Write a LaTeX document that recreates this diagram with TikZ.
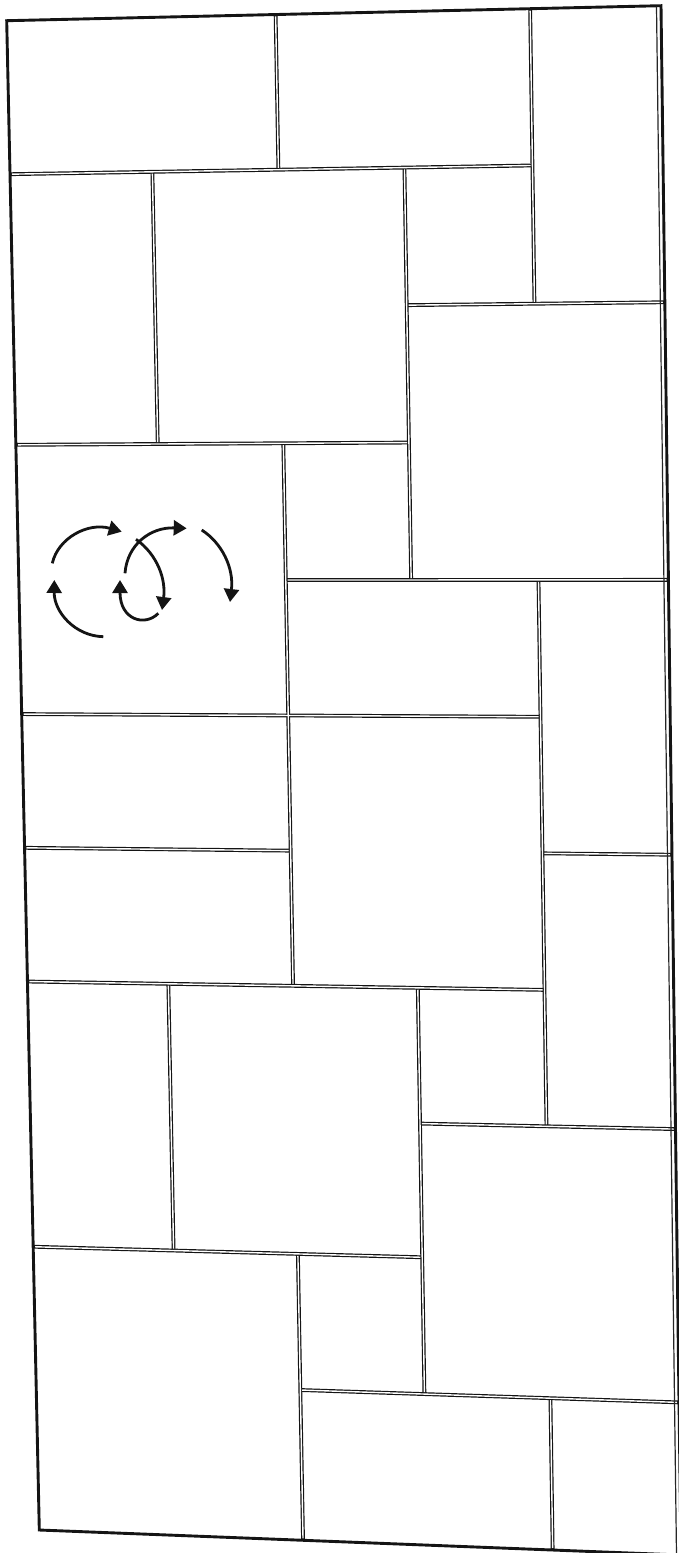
\documentclass[tikz,border=0pt]{standalone}
\usetikzlibrary{calc,arrows.meta}
\begin{document}
\begin{tikzpicture}[x=0.5pt,y=-0.5pt,
  darkline/.style={line width=1.9pt,draw=black!92},
  coreline/.style={line width=0.7pt,draw=white,shorten <=0.95pt,shorten >=0.95pt},
  frameline/.style={line width=1.45pt,draw=black!92,line join=miter},
  rot/.style={line width=1.4pt,draw=black!92,-{Triangle[length=6.5pt,width=7.5pt]}}]
\useasboundingbox (0,0) rectangle (679,1553);
\clip (0,0) rectangle (679,1553);
\coordinate (TL) at (6.7,20.7);
\coordinate (TR) at (661,5.7);
\coordinate (BL) at (39.3,1530);
\coordinate (BR) at (681,1555);
\foreach \i/\sv in {0/0,1/0.218,2/0.411,3/0.604,4/0.800,5/1}{
  \coordinate (top\i) at ($(TL)!\sv!(TR)$);
  \coordinate (bot\i) at ($(BL)!\sv!(BR)$);
  \foreach \j/\tv in {0/0,1/0.1017,2/0.1914,3/0.281,4/0.3706,5/0.4594,6/0.548,7/0.6366,8/0.7251,9/0.8123,10/0.9015,11/1}{
    \coordinate (p\i-\j) at ($(top\i)!\tv!(bot\i)$);
  }
}
\def\seglist{p2-0/p2-1,p4-0/p4-2,p1-1/p1-3,p3-1/p3-4,p2-3/p2-7,p4-4/p4-8,p1-7/p1-9,p3-7/p3-10,p2-9/p2-11,p4-10/p4-11,
p0-1/p4-1,p3-2/p5-2,p0-3/p3-3,p2-4/p5-4,p0-5/p4-5,p0-6/p2-6,p4-6/p5-6,p0-7/p4-7,p3-8/p5-8,p0-9/p3-9,p2-10/p5-10}
\foreach \a/\b in \seglist { \draw[darkline] (\a) -- (\b); }
\foreach \a/\b in \seglist { \draw[coreline] (\a) -- (\b); }
% frame
\draw[frameline] (TL) -- (TR) -- (BR) -- (BL) -- cycle;
\coordinate (iTR) at ($(TR)+(-4.5,1)$);
\coordinate (iBR) at ($(BR)+(-4.5,0)$);
\draw[line width=0.6pt,draw=black!85] (iTR) -- (iBR);
% rotation arrows
\draw[rot] (52.3,563.3) .. controls (58,538) and (88,522) .. (121.7,531.7);
\draw[rot] (103.3,636.7) .. controls (75,636) and (54,612) .. (54.3,580);
\draw[rot] (125,573.3) .. controls (127,545) and (150,527) .. (186.7,528.3);
\draw[rot] (136,539.3) .. controls (158,555) and (166,580) .. (162,610);
\draw[rot] (158.3,613.3) .. controls (145,627) and (120,620) .. (120,580);
\draw[rot] (201.7,530) .. controls (222,543) and (234,568) .. (230,602);
\end{tikzpicture}
\end{document}
